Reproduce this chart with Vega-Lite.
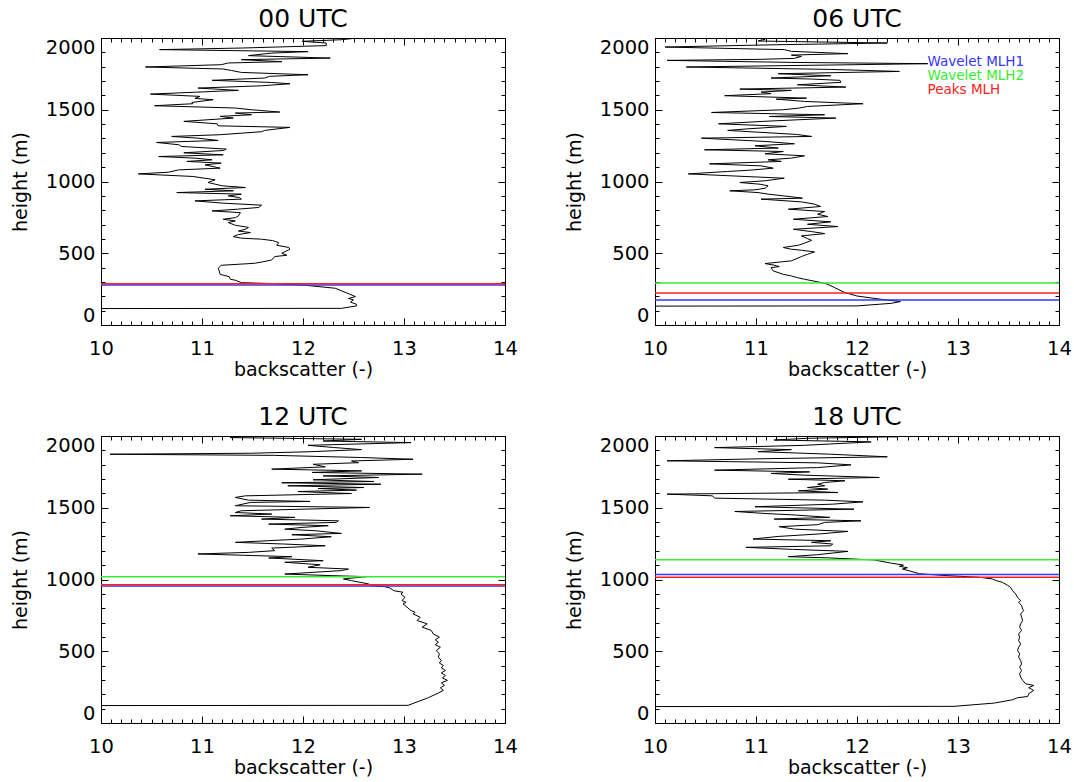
{
  "$schema": "https://vega.github.io/schema/vega-lite/v6.json",
  "background": "white",
  "padding": {"left": 10, "top": 6, "right": 5, "bottom": 5},
  "bounds": "flush",
  "columns": 2,
  "spacing": {"row": 111, "column": 150},
  "config": {
    "view": {"stroke": "black", "strokeWidth": 1},
    "axis": {"domain": false, "grid": false, "tickColor": "black", "tickWidth": 1, "labelColor": "black", "titleColor": "black", "labelFont": "DejaVu Sans", "titleFont": "DejaVu Sans", "labelFontSize": 19.5, "titleFontSize": 19, "titleFontWeight": "normal"}
  },
  "data": {"values": [
    {"time":"00 UTC","backscatter":9,"height":114},{"time":"00 UTC","backscatter":12.38,"height":116},{"time":"00 UTC","backscatter":12.53,"height":133},{"time":"00 UTC","backscatter":12.53,"height":144},{"time":"00 UTC","backscatter":12.47,"height":160},{"time":"00 UTC","backscatter":12.5,"height":175},{"time":"00 UTC","backscatter":12.45,"height":185},{"time":"00 UTC","backscatter":12.52,"height":198},{"time":"00 UTC","backscatter":12.32,"height":256},{"time":"00 UTC","backscatter":12.02,"height":277},{"time":"00 UTC","backscatter":11.72,"height":288},{"time":"00 UTC","backscatter":11.39,"height":295},{"time":"00 UTC","backscatter":11.33,"height":312},{"time":"00 UTC","backscatter":11.28,"height":319},{"time":"00 UTC","backscatter":11.27,"height":337},{"time":"00 UTC","backscatter":11.18,"height":353},{"time":"00 UTC","backscatter":11.17,"height":377},{"time":"00 UTC","backscatter":11.16,"height":395},{"time":"00 UTC","backscatter":11.19,"height":416},{"time":"00 UTC","backscatter":11.52,"height":430},{"time":"00 UTC","backscatter":11.6,"height":440},{"time":"00 UTC","backscatter":11.69,"height":453},{"time":"00 UTC","backscatter":11.72,"height":477},{"time":"00 UTC","backscatter":11.84,"height":486},{"time":"00 UTC","backscatter":11.79,"height":500},{"time":"00 UTC","backscatter":11.87,"height":528},{"time":"00 UTC","backscatter":11.86,"height":540},{"time":"00 UTC","backscatter":11.74,"height":556},{"time":"00 UTC","backscatter":11.76,"height":574},{"time":"00 UTC","backscatter":11.7,"height":588},{"time":"00 UTC","backscatter":11.59,"height":598},{"time":"00 UTC","backscatter":11.39,"height":605},{"time":"00 UTC","backscatter":11.31,"height":616},{"time":"00 UTC","backscatter":11.36,"height":630},{"time":"00 UTC","backscatter":11.48,"height":644},{"time":"00 UTC","backscatter":11.36,"height":655},{"time":"00 UTC","backscatter":11.43,"height":667},{"time":"00 UTC","backscatter":11.46,"height":680},{"time":"00 UTC","backscatter":11.33,"height":695},{"time":"00 UTC","backscatter":11.26,"height":714},{"time":"00 UTC","backscatter":11.33,"height":725},{"time":"00 UTC","backscatter":11.21,"height":737},{"time":"00 UTC","backscatter":11.33,"height":748},{"time":"00 UTC","backscatter":11.36,"height":760},{"time":"00 UTC","backscatter":11.38,"height":783},{"time":"00 UTC","backscatter":11.1,"height":795},{"time":"00 UTC","backscatter":11.35,"height":807},{"time":"00 UTC","backscatter":11.56,"height":819},{"time":"00 UTC","backscatter":11.59,"height":835},{"time":"00 UTC","backscatter":11.21,"height":849},{"time":"00 UTC","backscatter":10.93,"height":865},{"time":"00 UTC","backscatter":11.39,"height":877},{"time":"00 UTC","backscatter":11.37,"height":888},{"time":"00 UTC","backscatter":11.26,"height":900},{"time":"00 UTC","backscatter":11.39,"height":912},{"time":"00 UTC","backscatter":10.75,"height":923},{"time":"00 UTC","backscatter":11.31,"height":935},{"time":"00 UTC","backscatter":11.03,"height":946},{"time":"00 UTC","backscatter":11.43,"height":958},{"time":"00 UTC","backscatter":11.2,"height":970},{"time":"00 UTC","backscatter":11.06,"height":993},{"time":"00 UTC","backscatter":11.13,"height":1012},{"time":"00 UTC","backscatter":10.91,"height":1035},{"time":"00 UTC","backscatter":10.37,"height":1053},{"time":"00 UTC","backscatter":10.67,"height":1065},{"time":"00 UTC","backscatter":10.77,"height":1081},{"time":"00 UTC","backscatter":11.18,"height":1093},{"time":"00 UTC","backscatter":11.03,"height":1116},{"time":"00 UTC","backscatter":11.19,"height":1128},{"time":"00 UTC","backscatter":10.85,"height":1140},{"time":"00 UTC","backscatter":11.1,"height":1151},{"time":"00 UTC","backscatter":10.93,"height":1163},{"time":"00 UTC","backscatter":10.57,"height":1174},{"time":"00 UTC","backscatter":11.21,"height":1186},{"time":"00 UTC","backscatter":10.82,"height":1200},{"time":"00 UTC","backscatter":11.21,"height":1216},{"time":"00 UTC","backscatter":11.24,"height":1226},{"time":"00 UTC","backscatter":10.8,"height":1244},{"time":"00 UTC","backscatter":10.77,"height":1256},{"time":"00 UTC","backscatter":10.55,"height":1272},{"time":"00 UTC","backscatter":11.16,"height":1286},{"time":"00 UTC","backscatter":10.96,"height":1302},{"time":"00 UTC","backscatter":10.7,"height":1314},{"time":"00 UTC","backscatter":11.18,"height":1326},{"time":"00 UTC","backscatter":11.59,"height":1347},{"time":"00 UTC","backscatter":11.62,"height":1356},{"time":"00 UTC","backscatter":11.87,"height":1377},{"time":"00 UTC","backscatter":11.16,"height":1388},{"time":"00 UTC","backscatter":11.15,"height":1402},{"time":"00 UTC","backscatter":10.82,"height":1419},{"time":"00 UTC","backscatter":11.31,"height":1442},{"time":"00 UTC","backscatter":11.18,"height":1454},{"time":"00 UTC","backscatter":11.49,"height":1465},{"time":"00 UTC","backscatter":11.33,"height":1477},{"time":"00 UTC","backscatter":11.77,"height":1484},{"time":"00 UTC","backscatter":11.49,"height":1500},{"time":"00 UTC","backscatter":11.33,"height":1512},{"time":"00 UTC","backscatter":10.53,"height":1528},{"time":"00 UTC","backscatter":10.91,"height":1542},{"time":"00 UTC","backscatter":10.9,"height":1551},{"time":"00 UTC","backscatter":11.11,"height":1570},{"time":"00 UTC","backscatter":10.93,"height":1579},{"time":"00 UTC","backscatter":10.98,"height":1593},{"time":"00 UTC","backscatter":10.49,"height":1609},{"time":"00 UTC","backscatter":11.36,"height":1635},{"time":"00 UTC","backscatter":10.96,"height":1651},{"time":"00 UTC","backscatter":11.59,"height":1667},{"time":"00 UTC","backscatter":11.87,"height":1681},{"time":"00 UTC","backscatter":11.69,"height":1690},{"time":"00 UTC","backscatter":11.1,"height":1705},{"time":"00 UTC","backscatter":11.62,"height":1721},{"time":"00 UTC","backscatter":11.67,"height":1733},{"time":"00 UTC","backscatter":12.05,"height":1744},{"time":"00 UTC","backscatter":11.39,"height":1760},{"time":"00 UTC","backscatter":11.29,"height":1774},{"time":"00 UTC","backscatter":11.21,"height":1784},{"time":"00 UTC","backscatter":10.44,"height":1798},{"time":"00 UTC","backscatter":11.19,"height":1814},{"time":"00 UTC","backscatter":11.26,"height":1826},{"time":"00 UTC","backscatter":11.79,"height":1835},{"time":"00 UTC","backscatter":11.39,"height":1849},{"time":"00 UTC","backscatter":12.27,"height":1860},{"time":"00 UTC","backscatter":11.46,"height":1877},{"time":"00 UTC","backscatter":11.69,"height":1895},{"time":"00 UTC","backscatter":12.05,"height":1905},{"time":"00 UTC","backscatter":10.58,"height":1919},{"time":"00 UTC","backscatter":11.39,"height":1930},{"time":"00 UTC","backscatter":12.23,"height":1947},{"time":"00 UTC","backscatter":12.23,"height":1965},{"time":"00 UTC","backscatter":11.99,"height":1977},{"time":"00 UTC","backscatter":12.38,"height":1988},{"time":"00 UTC","backscatter":12.51,"height":1998},{"time":"00 UTC","backscatter":12.6,"height":2010},
    {"time":"06 UTC","backscatter":9,"height":131},{"time":"06 UTC","backscatter":12.0,"height":133},{"time":"06 UTC","backscatter":12.34,"height":151},{"time":"06 UTC","backscatter":12.43,"height":163},{"time":"06 UTC","backscatter":12.24,"height":179},{"time":"06 UTC","backscatter":12.0,"height":202},{"time":"06 UTC","backscatter":11.88,"height":226},{"time":"06 UTC","backscatter":11.78,"height":260},{"time":"06 UTC","backscatter":11.73,"height":277},{"time":"06 UTC","backscatter":11.68,"height":291},{"time":"06 UTC","backscatter":11.48,"height":319},{"time":"06 UTC","backscatter":11.41,"height":330},{"time":"06 UTC","backscatter":11.35,"height":342},{"time":"06 UTC","backscatter":11.27,"height":353},{"time":"06 UTC","backscatter":11.17,"height":377},{"time":"06 UTC","backscatter":11.15,"height":400},{"time":"06 UTC","backscatter":11.23,"height":407},{"time":"06 UTC","backscatter":11.18,"height":417},{"time":"06 UTC","backscatter":11.09,"height":428},{"time":"06 UTC","backscatter":11.25,"height":440},{"time":"06 UTC","backscatter":11.35,"height":447},{"time":"06 UTC","backscatter":11.45,"height":477},{"time":"06 UTC","backscatter":11.51,"height":493},{"time":"06 UTC","backscatter":11.58,"height":509},{"time":"06 UTC","backscatter":11.45,"height":521},{"time":"06 UTC","backscatter":11.35,"height":528},{"time":"06 UTC","backscatter":11.27,"height":540},{"time":"06 UTC","backscatter":11.42,"height":556},{"time":"06 UTC","backscatter":11.48,"height":570},{"time":"06 UTC","backscatter":11.55,"height":590},{"time":"06 UTC","backscatter":11.51,"height":602},{"time":"06 UTC","backscatter":11.45,"height":621},{"time":"06 UTC","backscatter":11.68,"height":637},{"time":"06 UTC","backscatter":11.55,"height":651},{"time":"06 UTC","backscatter":11.37,"height":667},{"time":"06 UTC","backscatter":11.81,"height":686},{"time":"06 UTC","backscatter":11.51,"height":702},{"time":"06 UTC","backscatter":11.74,"height":719},{"time":"06 UTC","backscatter":11.37,"height":737},{"time":"06 UTC","backscatter":11.71,"height":756},{"time":"06 UTC","backscatter":11.61,"height":772},{"time":"06 UTC","backscatter":11.68,"height":791},{"time":"06 UTC","backscatter":11.32,"height":807},{"time":"06 UTC","backscatter":11.64,"height":826},{"time":"06 UTC","backscatter":11.58,"height":842},{"time":"06 UTC","backscatter":11.45,"height":858},{"time":"06 UTC","backscatter":11.05,"height":877},{"time":"06 UTC","backscatter":11.46,"height":884},{"time":"06 UTC","backscatter":11.27,"height":900},{"time":"06 UTC","backscatter":11.12,"height":912},{"time":"06 UTC","backscatter":11.02,"height":923},{"time":"06 UTC","backscatter":10.74,"height":935},{"time":"06 UTC","backscatter":10.99,"height":942},{"time":"06 UTC","backscatter":11.09,"height":953},{"time":"06 UTC","backscatter":11.12,"height":970},{"time":"06 UTC","backscatter":11.04,"height":981},{"time":"06 UTC","backscatter":10.84,"height":993},{"time":"06 UTC","backscatter":11.09,"height":1005},{"time":"06 UTC","backscatter":11.28,"height":1023},{"time":"06 UTC","backscatter":10.89,"height":1035},{"time":"06 UTC","backscatter":10.33,"height":1053},{"time":"06 UTC","backscatter":10.72,"height":1070},{"time":"06 UTC","backscatter":10.94,"height":1079},{"time":"06 UTC","backscatter":11.17,"height":1093},{"time":"06 UTC","backscatter":11.05,"height":1109},{"time":"06 UTC","backscatter":10.54,"height":1123},{"time":"06 UTC","backscatter":11.25,"height":1140},{"time":"06 UTC","backscatter":11.12,"height":1151},{"time":"06 UTC","backscatter":11.35,"height":1163},{"time":"06 UTC","backscatter":11.48,"height":1179},{"time":"06 UTC","backscatter":11.09,"height":1193},{"time":"06 UTC","backscatter":11.27,"height":1209},{"time":"06 UTC","backscatter":10.49,"height":1221},{"time":"06 UTC","backscatter":11.22,"height":1233},{"time":"06 UTC","backscatter":10.99,"height":1249},{"time":"06 UTC","backscatter":11.38,"height":1263},{"time":"06 UTC","backscatter":11.09,"height":1279},{"time":"06 UTC","backscatter":10.46,"height":1302},{"time":"06 UTC","backscatter":11.55,"height":1314},{"time":"06 UTC","backscatter":11.4,"height":1328},{"time":"06 UTC","backscatter":10.72,"height":1356},{"time":"06 UTC","backscatter":10.92,"height":1367},{"time":"06 UTC","backscatter":11.3,"height":1384},{"time":"06 UTC","backscatter":10.63,"height":1402},{"time":"06 UTC","backscatter":11.07,"height":1419},{"time":"06 UTC","backscatter":11.79,"height":1442},{"time":"06 UTC","backscatter":11.13,"height":1453},{"time":"06 UTC","backscatter":11.68,"height":1465},{"time":"06 UTC","backscatter":10.56,"height":1481},{"time":"06 UTC","backscatter":11.27,"height":1500},{"time":"06 UTC","backscatter":11.43,"height":1512},{"time":"06 UTC","backscatter":11.51,"height":1523},{"time":"06 UTC","backscatter":12.06,"height":1542},{"time":"06 UTC","backscatter":11.48,"height":1558},{"time":"06 UTC","backscatter":11.2,"height":1574},{"time":"06 UTC","backscatter":11.5,"height":1581},{"time":"06 UTC","backscatter":10.69,"height":1598},{"time":"06 UTC","backscatter":11.15,"height":1612},{"time":"06 UTC","backscatter":11.05,"height":1623},{"time":"06 UTC","backscatter":11.35,"height":1635},{"time":"06 UTC","backscatter":10.84,"height":1644},{"time":"06 UTC","backscatter":11.89,"height":1658},{"time":"06 UTC","backscatter":11.41,"height":1674},{"time":"06 UTC","backscatter":11.84,"height":1691},{"time":"06 UTC","backscatter":11.83,"height":1705},{"time":"06 UTC","backscatter":11.55,"height":1714},{"time":"06 UTC","backscatter":11.15,"height":1721},{"time":"06 UTC","backscatter":11.74,"height":1737},{"time":"06 UTC","backscatter":11.22,"height":1751},{"time":"06 UTC","backscatter":12.42,"height":1767},{"time":"06 UTC","backscatter":11.74,"height":1781},{"time":"06 UTC","backscatter":10.31,"height":1798},{"time":"06 UTC","backscatter":12.7,"height":1821},{"time":"06 UTC","backscatter":11.35,"height":1830},{"time":"06 UTC","backscatter":10.12,"height":1844},{"time":"06 UTC","backscatter":11.02,"height":1851},{"time":"06 UTC","backscatter":11.38,"height":1858},{"time":"06 UTC","backscatter":11.45,"height":1872},{"time":"06 UTC","backscatter":11.35,"height":1881},{"time":"06 UTC","backscatter":11.91,"height":1891},{"time":"06 UTC","backscatter":11.35,"height":1907},{"time":"06 UTC","backscatter":11.28,"height":1919},{"time":"06 UTC","backscatter":10.1,"height":1937},{"time":"06 UTC","backscatter":11.2,"height":1953},{"time":"06 UTC","backscatter":12.3,"height":1965},{"time":"06 UTC","backscatter":11.02,"height":1979},{"time":"06 UTC","backscatter":11.09,"height":1991},{"time":"06 UTC","backscatter":10.95,"height":2005},
    {"time":"12 UTC","backscatter":9,"height":121},{"time":"12 UTC","backscatter":13.04,"height":123},{"time":"12 UTC","backscatter":13.24,"height":176},{"time":"12 UTC","backscatter":13.34,"height":209},{"time":"12 UTC","backscatter":13.39,"height":227},{"time":"12 UTC","backscatter":13.36,"height":245},{"time":"12 UTC","backscatter":13.4,"height":262},{"time":"12 UTC","backscatter":13.37,"height":280},{"time":"12 UTC","backscatter":13.43,"height":297},{"time":"12 UTC","backscatter":13.38,"height":314},{"time":"12 UTC","backscatter":13.41,"height":331},{"time":"12 UTC","backscatter":13.37,"height":349},{"time":"12 UTC","backscatter":13.41,"height":366},{"time":"12 UTC","backscatter":13.37,"height":384},{"time":"12 UTC","backscatter":13.39,"height":401},{"time":"12 UTC","backscatter":13.35,"height":418},{"time":"12 UTC","backscatter":13.37,"height":436},{"time":"12 UTC","backscatter":13.34,"height":459},{"time":"12 UTC","backscatter":13.35,"height":482},{"time":"12 UTC","backscatter":13.32,"height":505},{"time":"12 UTC","backscatter":13.36,"height":528},{"time":"12 UTC","backscatter":13.31,"height":545},{"time":"12 UTC","backscatter":13.34,"height":563},{"time":"12 UTC","backscatter":13.31,"height":580},{"time":"12 UTC","backscatter":13.35,"height":598},{"time":"12 UTC","backscatter":13.29,"height":621},{"time":"12 UTC","backscatter":13.27,"height":645},{"time":"12 UTC","backscatter":13.18,"height":668},{"time":"12 UTC","backscatter":13.23,"height":691},{"time":"12 UTC","backscatter":13.13,"height":714},{"time":"12 UTC","backscatter":13.16,"height":737},{"time":"12 UTC","backscatter":13.09,"height":760},{"time":"12 UTC","backscatter":13.11,"height":772},{"time":"12 UTC","backscatter":13.07,"height":783},{"time":"12 UTC","backscatter":13.03,"height":807},{"time":"12 UTC","backscatter":12.99,"height":830},{"time":"12 UTC","backscatter":13.02,"height":841},{"time":"12 UTC","backscatter":12.98,"height":853},{"time":"12 UTC","backscatter":13.01,"height":876},{"time":"12 UTC","backscatter":12.97,"height":899},{"time":"12 UTC","backscatter":12.99,"height":911},{"time":"12 UTC","backscatter":12.9,"height":922},{"time":"12 UTC","backscatter":12.86,"height":941},{"time":"12 UTC","backscatter":12.81,"height":950},{"time":"12 UTC","backscatter":12.68,"height":957},{"time":"12 UTC","backscatter":12.65,"height":969},{"time":"12 UTC","backscatter":12.48,"height":992},{"time":"12 UTC","backscatter":12.4,"height":1004},{"time":"12 UTC","backscatter":12.63,"height":1020},{"time":"12 UTC","backscatter":12.28,"height":1027},{"time":"12 UTC","backscatter":11.82,"height":1038},{"time":"12 UTC","backscatter":12.38,"height":1062},{"time":"12 UTC","backscatter":12.45,"height":1073},{"time":"12 UTC","backscatter":12.05,"height":1085},{"time":"12 UTC","backscatter":12.17,"height":1103},{"time":"12 UTC","backscatter":11.82,"height":1120},{"time":"12 UTC","backscatter":12.2,"height":1131},{"time":"12 UTC","backscatter":11.66,"height":1150},{"time":"12 UTC","backscatter":11.89,"height":1159},{"time":"12 UTC","backscatter":10.96,"height":1178},{"time":"12 UTC","backscatter":11.46,"height":1189},{"time":"12 UTC","backscatter":11.72,"height":1201},{"time":"12 UTC","backscatter":11.69,"height":1219},{"time":"12 UTC","backscatter":12.22,"height":1235},{"time":"12 UTC","backscatter":11.82,"height":1247},{"time":"12 UTC","backscatter":11.33,"height":1259},{"time":"12 UTC","backscatter":11.99,"height":1282},{"time":"12 UTC","backscatter":12.28,"height":1298},{"time":"12 UTC","backscatter":11.89,"height":1312},{"time":"12 UTC","backscatter":12.38,"height":1321},{"time":"12 UTC","backscatter":12.12,"height":1340},{"time":"12 UTC","backscatter":11.82,"height":1351},{"time":"12 UTC","backscatter":11.99,"height":1363},{"time":"12 UTC","backscatter":12.25,"height":1375},{"time":"12 UTC","backscatter":11.66,"height":1386},{"time":"12 UTC","backscatter":12.33,"height":1398},{"time":"12 UTC","backscatter":12.35,"height":1409},{"time":"12 UTC","backscatter":11.59,"height":1421},{"time":"12 UTC","backscatter":11.92,"height":1433},{"time":"12 UTC","backscatter":11.28,"height":1444},{"time":"12 UTC","backscatter":11.69,"height":1456},{"time":"12 UTC","backscatter":11.33,"height":1467},{"time":"12 UTC","backscatter":11.39,"height":1479},{"time":"12 UTC","backscatter":12.66,"height":1502},{"time":"12 UTC","backscatter":11.33,"height":1514},{"time":"12 UTC","backscatter":11.48,"height":1537},{"time":"12 UTC","backscatter":12.07,"height":1544},{"time":"12 UTC","backscatter":11.46,"height":1553},{"time":"12 UTC","backscatter":11.33,"height":1572},{"time":"12 UTC","backscatter":11.43,"height":1583},{"time":"12 UTC","backscatter":12.48,"height":1599},{"time":"12 UTC","backscatter":11.95,"height":1613},{"time":"12 UTC","backscatter":12.53,"height":1623},{"time":"12 UTC","backscatter":12.15,"height":1634},{"time":"12 UTC","backscatter":12.6,"height":1641},{"time":"12 UTC","backscatter":11.85,"height":1653},{"time":"12 UTC","backscatter":12.77,"height":1664},{"time":"12 UTC","backscatter":11.79,"height":1674},{"time":"12 UTC","backscatter":12.7,"height":1683},{"time":"12 UTC","backscatter":12.1,"height":1695},{"time":"12 UTC","backscatter":12.75,"height":1711},{"time":"12 UTC","backscatter":12.2,"height":1722},{"time":"12 UTC","backscatter":13.18,"height":1734},{"time":"12 UTC","backscatter":12.09,"height":1746},{"time":"12 UTC","backscatter":12.58,"height":1757},{"time":"12 UTC","backscatter":11.69,"height":1769},{"time":"12 UTC","backscatter":12.22,"height":1785},{"time":"12 UTC","backscatter":12.1,"height":1803},{"time":"12 UTC","backscatter":12.55,"height":1814},{"time":"12 UTC","backscatter":12.48,"height":1826},{"time":"12 UTC","backscatter":13.09,"height":1838},{"time":"12 UTC","backscatter":12.58,"height":1850},{"time":"12 UTC","backscatter":11.72,"height":1865},{"time":"12 UTC","backscatter":10.09,"height":1873},{"time":"12 UTC","backscatter":11.49,"height":1880},{"time":"12 UTC","backscatter":12.05,"height":1890},{"time":"12 UTC","backscatter":12.58,"height":1905},{"time":"12 UTC","backscatter":12.3,"height":1920},{"time":"12 UTC","backscatter":12.05,"height":1935},{"time":"12 UTC","backscatter":13.07,"height":1954},{"time":"12 UTC","backscatter":12.2,"height":1965},{"time":"12 UTC","backscatter":12.58,"height":1977},{"time":"12 UTC","backscatter":11.28,"height":1989},{"time":"12 UTC","backscatter":11.5,"height":2005},
    {"time":"18 UTC","backscatter":9,"height":114},{"time":"18 UTC","backscatter":12.96,"height":116},{"time":"18 UTC","backscatter":13.36,"height":139},{"time":"18 UTC","backscatter":13.54,"height":162},{"time":"18 UTC","backscatter":13.59,"height":176},{"time":"18 UTC","backscatter":13.69,"height":185},{"time":"18 UTC","backscatter":13.7,"height":204},{"time":"18 UTC","backscatter":13.75,"height":227},{"time":"18 UTC","backscatter":13.7,"height":246},{"time":"18 UTC","backscatter":13.75,"height":262},{"time":"18 UTC","backscatter":13.67,"height":273},{"time":"18 UTC","backscatter":13.64,"height":297},{"time":"18 UTC","backscatter":13.62,"height":320},{"time":"18 UTC","backscatter":13.61,"height":343},{"time":"18 UTC","backscatter":13.63,"height":366},{"time":"18 UTC","backscatter":13.61,"height":389},{"time":"18 UTC","backscatter":13.63,"height":412},{"time":"18 UTC","backscatter":13.62,"height":436},{"time":"18 UTC","backscatter":13.6,"height":459},{"time":"18 UTC","backscatter":13.61,"height":482},{"time":"18 UTC","backscatter":13.59,"height":505},{"time":"18 UTC","backscatter":13.6,"height":528},{"time":"18 UTC","backscatter":13.62,"height":551},{"time":"18 UTC","backscatter":13.6,"height":575},{"time":"18 UTC","backscatter":13.61,"height":598},{"time":"18 UTC","backscatter":13.6,"height":621},{"time":"18 UTC","backscatter":13.63,"height":645},{"time":"18 UTC","backscatter":13.61,"height":668},{"time":"18 UTC","backscatter":13.62,"height":691},{"time":"18 UTC","backscatter":13.64,"height":714},{"time":"18 UTC","backscatter":13.63,"height":737},{"time":"18 UTC","backscatter":13.62,"height":760},{"time":"18 UTC","backscatter":13.65,"height":783},{"time":"18 UTC","backscatter":13.64,"height":795},{"time":"18 UTC","backscatter":13.63,"height":818},{"time":"18 UTC","backscatter":13.6,"height":841},{"time":"18 UTC","backscatter":13.62,"height":853},{"time":"18 UTC","backscatter":13.59,"height":876},{"time":"18 UTC","backscatter":13.57,"height":899},{"time":"18 UTC","backscatter":13.54,"height":922},{"time":"18 UTC","backscatter":13.52,"height":946},{"time":"18 UTC","backscatter":13.49,"height":960},{"time":"18 UTC","backscatter":13.44,"height":980},{"time":"18 UTC","backscatter":13.38,"height":992},{"time":"18 UTC","backscatter":13.34,"height":1004},{"time":"18 UTC","backscatter":13.22,"height":1015},{"time":"18 UTC","backscatter":12.89,"height":1027},{"time":"18 UTC","backscatter":12.62,"height":1040},{"time":"18 UTC","backscatter":12.52,"height":1060},{"time":"18 UTC","backscatter":12.45,"height":1073},{"time":"18 UTC","backscatter":12.5,"height":1082},{"time":"18 UTC","backscatter":12.42,"height":1092},{"time":"18 UTC","backscatter":12.46,"height":1100},{"time":"18 UTC","backscatter":12.33,"height":1115},{"time":"18 UTC","backscatter":12.17,"height":1136},{"time":"18 UTC","backscatter":11.74,"height":1150},{"time":"18 UTC","backscatter":11.32,"height":1159},{"time":"18 UTC","backscatter":11.61,"height":1173},{"time":"18 UTC","backscatter":11.91,"height":1196},{"time":"18 UTC","backscatter":11.36,"height":1210},{"time":"18 UTC","backscatter":10.9,"height":1224},{"time":"18 UTC","backscatter":11.74,"height":1235},{"time":"18 UTC","backscatter":11.76,"height":1247},{"time":"18 UTC","backscatter":11.55,"height":1259},{"time":"18 UTC","backscatter":11.74,"height":1270},{"time":"18 UTC","backscatter":10.97,"height":1282},{"time":"18 UTC","backscatter":11.22,"height":1300},{"time":"18 UTC","backscatter":11.64,"height":1318},{"time":"18 UTC","backscatter":11.91,"height":1335},{"time":"18 UTC","backscatter":11.38,"height":1351},{"time":"18 UTC","backscatter":11.23,"height":1368},{"time":"18 UTC","backscatter":11.61,"height":1382},{"time":"18 UTC","backscatter":11.68,"height":1398},{"time":"18 UTC","backscatter":12.04,"height":1409},{"time":"18 UTC","backscatter":11.18,"height":1421},{"time":"18 UTC","backscatter":11.73,"height":1433},{"time":"18 UTC","backscatter":11.35,"height":1451},{"time":"18 UTC","backscatter":11.09,"height":1460},{"time":"18 UTC","backscatter":10.79,"height":1474},{"time":"18 UTC","backscatter":11.97,"height":1490},{"time":"18 UTC","backscatter":10.99,"height":1507},{"time":"18 UTC","backscatter":11.76,"height":1525},{"time":"18 UTC","backscatter":12.06,"height":1541},{"time":"18 UTC","backscatter":11.68,"height":1553},{"time":"18 UTC","backscatter":10.59,"height":1567},{"time":"18 UTC","backscatter":10.57,"height":1583},{"time":"18 UTC","backscatter":10.12,"height":1595},{"time":"18 UTC","backscatter":11.81,"height":1606},{"time":"18 UTC","backscatter":11.42,"height":1618},{"time":"18 UTC","backscatter":11.71,"height":1630},{"time":"18 UTC","backscatter":11.51,"height":1641},{"time":"18 UTC","backscatter":11.68,"height":1653},{"time":"18 UTC","backscatter":11.61,"height":1664},{"time":"18 UTC","backscatter":11.68,"height":1676},{"time":"18 UTC","backscatter":11.88,"height":1688},{"time":"18 UTC","backscatter":11.32,"height":1699},{"time":"18 UTC","backscatter":12.22,"height":1711},{"time":"18 UTC","backscatter":11.48,"height":1727},{"time":"18 UTC","backscatter":11.15,"height":1739},{"time":"18 UTC","backscatter":11.53,"height":1750},{"time":"18 UTC","backscatter":10.59,"height":1762},{"time":"18 UTC","backscatter":11.61,"height":1780},{"time":"18 UTC","backscatter":11.94,"height":1799},{"time":"18 UTC","backscatter":11.61,"height":1813},{"time":"18 UTC","backscatter":10.12,"height":1827},{"time":"18 UTC","backscatter":11.02,"height":1841},{"time":"18 UTC","backscatter":12.3,"height":1855},{"time":"18 UTC","backscatter":11.74,"height":1873},{"time":"18 UTC","backscatter":11.02,"height":1891},{"time":"18 UTC","backscatter":11.35,"height":1905},{"time":"18 UTC","backscatter":10.59,"height":1919},{"time":"18 UTC","backscatter":11.48,"height":1935},{"time":"18 UTC","backscatter":12.14,"height":1959},{"time":"18 UTC","backscatter":11.18,"height":1972},{"time":"18 UTC","backscatter":11.51,"height":1984},{"time":"18 UTC","backscatter":12.4,"height":1995},{"time":"18 UTC","backscatter":11.6,"height":2005},
    {"time":"00 UTC","series":"Wavelet MLH1","height":278},{"time":"00 UTC","series":"Peaks MLH","height":287},
    {"time":"06 UTC","series":"Wavelet MLH1","height":174},{"time":"06 UTC","series":"Wavelet MLH2","height":293},{"time":"06 UTC","series":"Peaks MLH","height":223},
    {"time":"12 UTC","series":"Wavelet MLH1","height":955},{"time":"12 UTC","series":"Wavelet MLH2","height":1020},{"time":"12 UTC","series":"Peaks MLH","height":964},
    {"time":"18 UTC","series":"Wavelet MLH1","height":1034},{"time":"18 UTC","series":"Wavelet MLH2","height":1138},{"time":"18 UTC","series":"Peaks MLH","height":1015}
  ]},
  "facet": {"field": "time", "type": "nominal", "title": null, "header": {"labelFont": "DejaVu Sans", "labelFontSize": 25, "labelColor": "black", "labelPadding": -15, "labelBaseline": "alphabetic"}},
  "resolve": {"axis": {"x": "independent", "y": "independent"}},
  "spec": {
    "width": 404,
    "height": 287,
    "resolve": {"axis": {"x": "independent", "y": "independent"}},
    "layer": [
      {
        "transform": [{"filter": "datum.series == null"}],
        "mark": {"type": "line", "color": "black", "strokeWidth": 1, "clip": true},
        "encoding": {
          "x": {"field": "backscatter", "type": "quantitative", "scale": {"domain": [10, 14], "nice": false}, "axis": {"orient": "bottom", "values": [10, 11, 12, 13, 14], "tickSize": -7, "labelPadding": 21, "labelFlush": false, "format": "d", "title": "backscatter (-)", "titlePadding": 3}},
          "y": {"field": "height", "type": "quantitative", "scale": {"domain": [0, 2000], "nice": false}, "axis": {"orient": "left", "values": [0, 500, 1000, 1500, 2000], "tickSize": -7, "labelPadding": 13, "labelFlush": true, "format": "d", "title": "height (m)", "titlePadding": 15}},
          "order": {"field": "height", "type": "quantitative"}
        }
      },
      {
        "transform": [{"filter": "false"}],
        "mark": {"type": "point", "opacity": 0},
        "encoding": {
          "x": {"field": "backscatter", "type": "quantitative", "scale": {"domain": [10, 14], "nice": false}, "axis": {"orient": "bottom", "values": [10.1,10.2,10.3,10.4,10.5,10.6,10.7,10.8,10.9,11.1,11.2,11.3,11.4,11.5,11.6,11.7,11.8,11.9,12.1,12.2,12.3,12.4,12.5,12.6,12.7,12.8,12.9,13.1,13.2,13.3,13.4,13.5,13.6,13.7,13.8,13.9], "tickSize": -4, "labels": false, "title": null}},
          "y": {"field": "height", "type": "quantitative", "scale": {"domain": [0, 2000], "nice": false}, "axis": {"orient": "left", "values": [100,200,300,400,600,700,800,900,1100,1200,1300,1400,1600,1700,1800,1900], "tickSize": -4, "labels": false, "title": null}}
        }
      },
      {
        "transform": [{"filter": "false"}],
        "mark": {"type": "point", "opacity": 0},
        "encoding": {
          "x": {"field": "backscatter", "type": "quantitative", "scale": {"domain": [10, 14], "nice": false}, "axis": {"orient": "top", "values": [10, 11, 12, 13, 14], "tickSize": -7, "labels": false, "title": null}},
          "y": {"field": "height", "type": "quantitative", "scale": {"domain": [0, 2000], "nice": false}, "axis": {"orient": "right", "values": [0, 500, 1000, 1500, 2000], "tickSize": -7, "labels": false, "title": null}}
        }
      },
      {
        "transform": [{"filter": "false"}],
        "mark": {"type": "point", "opacity": 0},
        "encoding": {
          "x": {"field": "backscatter", "type": "quantitative", "scale": {"domain": [10, 14], "nice": false}, "axis": {"orient": "top", "values": [10.1,10.2,10.3,10.4,10.5,10.6,10.7,10.8,10.9,11.1,11.2,11.3,11.4,11.5,11.6,11.7,11.8,11.9,12.1,12.2,12.3,12.4,12.5,12.6,12.7,12.8,12.9,13.1,13.2,13.3,13.4,13.5,13.6,13.7,13.8,13.9], "tickSize": -4, "labels": false, "title": null}},
          "y": {"field": "height", "type": "quantitative", "scale": {"domain": [0, 2000], "nice": false}, "axis": {"orient": "right", "values": [100,200,300,400,600,700,800,900,1100,1200,1300,1400,1600,1700,1800,1900], "tickSize": -4, "labels": false, "title": null}}
        }
      },
      {
        "transform": [{"filter": "datum.series != null"}],
        "mark": {"type": "rule", "strokeWidth": 1.5},
        "encoding": {
          "y": {"field": "height", "type": "quantitative", "scale": {"domain": [0, 2000], "nice": false}, "axis": null},
          "color": {"field": "series", "type": "nominal", "scale": {"domain": ["Wavelet MLH1", "Wavelet MLH2", "Peaks MLH"], "range": ["#3535ff", "#33ee33", "#ff2020"]},
            "legend": {"orient": "none", "legendX": 813, "legendY": 17, "title": null, "padding": 0, "symbolSize": 0, "symbolOpacity": 0, "symbolStrokeWidth": 0, "labelOffset": 0, "labelFont": "DejaVu Sans", "labelFontSize": 13.5, "rowPadding": -1, "encode": {"labels": {"update": {"fill": {"scale": "color", "field": "value"}}}}}}
        }
      }
    ]
  }
}
